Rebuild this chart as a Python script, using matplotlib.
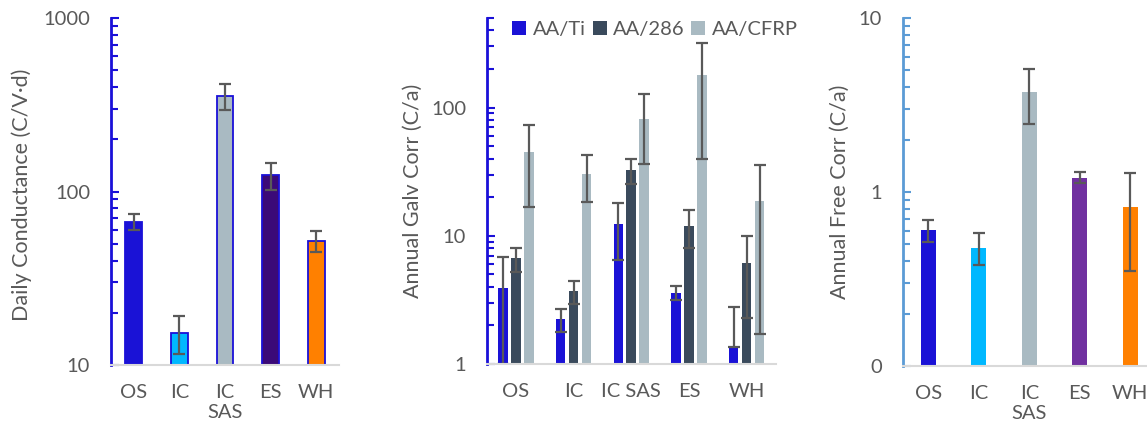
import matplotlib
matplotlib.use("Agg")
import matplotlib.pyplot as plt
import numpy as np
from matplotlib.ticker import LogLocator, FixedLocator, FixedFormatter, NullFormatter

plt.rcParams['font.family'] = ['Lato', 'DejaVu Sans']

# ---------------- data ----------------
cats1 = ["OS", "IC", "IC\nSAS", "ES", "WH"]
cond_vals = [67, 15.3, 354, 124, 52]
cond_err = [7, 3.8, 60, 22, 7]
cond_colors = ["#1A12D6", "#00B8FF", "#A9BAC2", "#3B0A78", "#FF8000"]

cats2 = ["OS", "IC", "IC SAS", "ES", "WH"]
series2 = ["AA/Ti", "AA/286", "AA/CFRP"]
galv_ti = [3.9, 2.23, 12.3, 3.6, 1.36]
galv_ti_err_lo = [2.9, 0.44, 5.8, 0.44, 0.0]
galv_ti_err_hi = [2.9, 0.44, 5.8, 0.44, 1.44]
galv_286 = [6.66, 3.68, 32.5, 12.0, 6.1]
galv_286_err = [1.4, 0.73, 7.3, 4.0, 3.8]
galv_cfrp = [44.9, 30.4, 81.6, 180, 18.7]
galv_cfrp_err = [28, 12, 45, 140, 17]
series2_colors = ["#1A12D6", "#3A4A5C", "#A9BAC2"]

cats3 = ["OS", "IC", "IC\nSAS", "ES", "WH"]
free_vals = [0.603, 0.479, 3.76, 1.21, 0.82]
free_err = [0.087, 0.1, 1.3, 0.09, 0.47]
free_colors = ["#1A12D6", "#00B8FF", "#A9BAC2", "#7030A0", "#FF8000"]

# ---------------- style ----------------
TXT = "#595959"
ERR = "#595959"
FS = 14.5

W, H = 1147, 432
fig = plt.figure(figsize=(W / 100, H / 100), dpi=100)


def style_axis(ax, spine_color, ylabel):
    for s in ["top", "right"]:
        ax.spines[s].set_visible(False)
    ax.spines["left"].set_color(spine_color)
    ax.spines["left"].set_linewidth(2)
    ax.spines["bottom"].set_color("#D9D9D9")
    ax.spines["bottom"].set_linewidth(1.5)
    ax.tick_params(axis="y", which="both", direction="in", colors=spine_color,
                   labelcolor=TXT, labelsize=FS, pad=15, width=1.5)
    ax.tick_params(axis="y", which="major", length=6)
    ax.tick_params(axis="y", which="minor", length=5)
    ax.tick_params(axis="x", length=0, labelcolor=TXT, labelsize=FS, pad=14)
    ax.set_ylabel(ylabel, color=TXT, fontsize=FS + 1)
    ax.set_xlim(-0.5, 4.5)


ek = dict(ecolor=ERR, elinewidth=1.6, capsize=4, capthick=1.6)

# ---- Panel 1 ----
ax1 = fig.add_axes([111 / W, 67 / H, 228 / W, 347 / H])
x1 = np.arange(len(cats1))
ax1.bar(x1, cond_vals, width=0.37, color=cond_colors, edgecolor="#1A10D8",
        linewidth=1.3, yerr=cond_err, error_kw=ek)
ax1.set_yscale("log")
ax1.set_ylim(10, 1000)
ax1.yaxis.set_major_locator(FixedLocator([10, 100, 1000]))
ax1.yaxis.set_major_formatter(FixedFormatter(["10", "100", "1000"]))
ax1.yaxis.set_minor_locator(LogLocator(base=10, subs=np.arange(2, 10)))
ax1.yaxis.set_minor_formatter(NullFormatter())
ax1.set_xticks(x1)
ax1.set_xticklabels(cats1)
style_axis(ax1, "#1A10D8", "Daily Conductance (C/V·d)")
ax1.yaxis.set_label_coords(-0.346, 0.49)

# ---- Panel 2 ----
ax2 = fig.add_axes([487 / W, 68 / H, 288.5 / W, 346 / H])
x2 = np.arange(len(cats2))
off = 0.225
bw = 0.165
ax2.bar(x2 - off, galv_ti, width=bw, color=series2_colors[0], label=series2[0],
        yerr=[galv_ti_err_lo, galv_ti_err_hi], error_kw=ek)
ax2.bar(x2, galv_286, width=bw, color=series2_colors[1], label=series2[1],
        yerr=galv_286_err, error_kw=ek)
ax2.bar(x2 + off, galv_cfrp, width=bw, color=series2_colors[2], label=series2[2],
        yerr=galv_cfrp_err, error_kw=ek)
ax2.set_yscale("log")
ax2.set_ylim(1, 500)
ax2.yaxis.set_major_locator(FixedLocator([1, 10, 100]))
ax2.yaxis.set_major_formatter(FixedFormatter(["1", "10", "100"]))
ax2.yaxis.set_minor_locator(LogLocator(base=10, subs=np.arange(2, 10)))
ax2.yaxis.set_minor_formatter(NullFormatter())
ax2.set_xticks(x2)
ax2.set_xticklabels(cats2)
style_axis(ax2, "#1A10D8", "Annual Galv Corr (C/a)")
ax2.yaxis.set_label_coords(-0.222, 0.5)
leg = ax2.legend(loc="upper left", bbox_to_anchor=(0.06, 1.015), ncol=3, frameon=False,
                 fontsize=FS, handlelength=0.7, handleheight=0.7, handletextpad=0.3,
                 columnspacing=0.35, borderaxespad=0)
for t in leg.get_texts():
    t.set_color(TXT)

# ---- Panel 3 ----
ax3 = fig.add_axes([903 / W, 66 / H, 252.5 / W, 348 / H])
x3 = np.arange(len(cats3))
ax3.bar(x3, free_vals, width=0.3, color=free_colors, yerr=free_err, error_kw=ek)
ax3.set_yscale("log")
ax3.set_ylim(0.1, 10)
ax3.yaxis.set_major_locator(FixedLocator([0.1, 1, 10]))
ax3.yaxis.set_major_formatter(FixedFormatter(["0", "1", "10"]))
ax3.yaxis.set_minor_locator(LogLocator(base=10, subs=np.arange(2, 10)))
ax3.yaxis.set_minor_formatter(NullFormatter())
ax3.set_xticks(x3)
ax3.set_xticklabels(cats3)
style_axis(ax3, "#5B9BD5", "Annual Free Corr (C/a)")
ax3.yaxis.set_label_coords(-0.21, 0.5)

fig.savefig("out.png", dpi=100)
